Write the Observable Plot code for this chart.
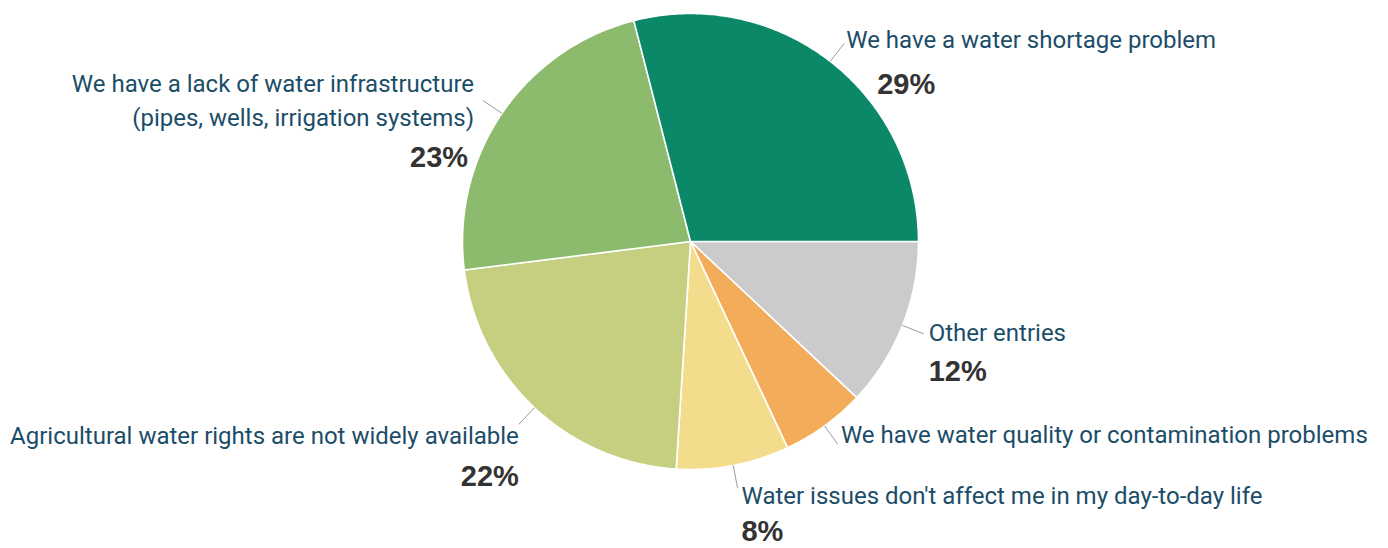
<!DOCTYPE html>
<html>
<head>
<meta charset="utf-8">
<script src="https://cdn.jsdelivr.net/npm/d3@7"></script>
<script src="https://cdn.jsdelivr.net/npm/@observablehq/plot@0.6"></script>
<style>
  html, body { margin: 0; padding: 0; background: #ffffff; }
  #chart svg { display: block; }
</style>
</head>
<body>
<div id="chart"></div>
<script>
// ---- Data ----
const categories = [
  "Other entries",
  "We have water quality or contamination problems",
  "Water issues don't affect me in my day-to-day life",
  "Agricultural water rights are not widely available",
  "We have a lack of water infrastructure\n(pipes, wells, irrigation systems)",
  "We have a water shortage problem"
];
const values = [12, 6, 8, 22, 23, 29];
const pctLabels = ["12%", "", "8%", "22%", "23%", "29%"];
const colors = ["#cbcbcb", "#f2ac5a", "#f3dd8c", "#c6cf80", "#8dbb6d", "#0a8868"];

// ---- Layout (pixels) ----
const W = 1388, H = 548, CX = 690, CY = 241, R = 228;
// per-label placement relative to the end of its leader line
const layout = [
  {anchor: "start", dx: 5,  dy: -4,  pdx: 5,   pdy: 38},
  {anchor: "start", dx: 3,  dy: -12, pdx: 0,   pdy: 0},
  {anchor: "start", dx: 4,  dy: 5,   pdx: 4,   pdy: 44},
  {anchor: "end",   dx: 0,  dy: 9,   pdx: 0,   pdy: 52},
  {anchor: "end",   dx: -9, dy: -2,  pdx: -15, pdy: 57},
  {anchor: "start", dx: 2,  dy: -6,  pdx: 33,  pdy: 41}
];

const rows = categories.map((c, i) => ({name: c, value: values[i], pct: pctLabels[i], color: colors[i], i}));
const arcs = d3.pie().value(d => d.value).sort(null)
  .startAngle(Math.PI / 2).endAngle(Math.PI / 2 + 2 * Math.PI)(rows);

// polygon points for each slice (unit radius, y up, angle clockwise from top)
const slicePts = arcs.flatMap(a => {
  const pts = [{name: a.data.name, x: 0, y: 0}];
  const n = Math.max(8, Math.ceil((a.endAngle - a.startAngle) / 0.01));
  for (let k = 0; k <= n; k++) {
    const t = a.startAngle + (a.endAngle - a.startAngle) * k / n;
    pts.push({name: a.data.name, x: Math.sin(t), y: Math.cos(t)});
  }
  pts.push({name: a.data.name, x: 0, y: 0});
  return pts;
});

const leaders = arcs.map(a => {
  const m = (a.startAngle + a.endAngle) / 2;
  return {
    i: a.data.i, name: a.data.name, pct: a.data.pct,
    x1: Math.sin(m), y1: Math.cos(m),
    x2: 1.1 * Math.sin(m), y2: 1.1 * Math.cos(m)
  };
});

const labelMarks = leaders.flatMap(l => {
  const L = layout[l.i];
  const ms = [
    Plot.text([l], {
      x: "x2", y: "y2", text: "name", textAnchor: L.anchor, lineAnchor: "middle",
      dx: L.dx, dy: L.dy, fontSize: 24, lineHeight: 1.42,
      fill: "#1b4d68", fontFamily: "Roboto"
    })
  ];
  if (l.pct) {
    ms.push(Plot.text([l], {
      x: "x2", y: "y2", text: "pct", textAnchor: L.anchor, lineAnchor: "middle",
      dx: L.pdx, dy: L.pdy, fontSize: 29, fontWeight: "bold",
      fill: "#333333", fontFamily: "Liberation Sans"
    }));
  }
  return ms;
});

const chart = Plot.plot({
  width: W, height: H,
  margin: 0,
  x: {domain: [-CX / R, (W - CX) / R], axis: null},
  y: {domain: [-(H - CY) / R, CY / R], axis: null},
  color: {domain: categories, range: colors},
  marks: [
    Plot.line(slicePts, {x: "x", y: "y", z: "name", fill: "name", stroke: "#ffffff", strokeWidth: 1.6, curve: "linear", strokeLinejoin: "round"}),
    Plot.link(leaders, {x1: "x1", y1: "y1", x2: "x2", y2: "y2", stroke: "#9a9a9a", strokeWidth: 1}),
    ...labelMarks
  ]
});
document.getElementById("chart").append(chart);
</script>
</body>
</html>
